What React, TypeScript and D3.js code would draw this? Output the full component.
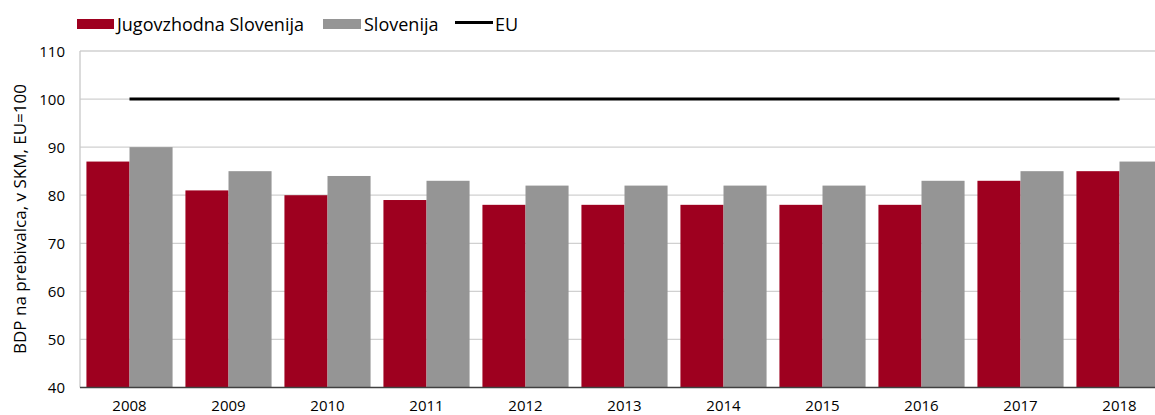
import React, { useRef, useEffect } from 'react'
import * as d3 from 'd3'

const years = ['2008', '2009', '2010', '2011', '2012', '2013', '2014', '2015', '2016', '2017', '2018']
const jugovzhodna = [87, 81, 80, 79, 78, 78, 78, 78, 78, 83, 85]
const slovenija = [90, 85, 84, 83, 82, 82, 82, 82, 83, 85, 87]
const eu = [100, 100, 100, 100, 100, 100, 100, 100, 100, 100, 100]
const yTicks = [40, 50, 60, 70, 80, 90, 100, 110]

const RED = '#9e001f'
const GRAY = '#959595'
const FONT = '"Open Sans", "Noto Sans", sans-serif'

export default function App() {
  const svgRef = useRef<SVGSVGElement>(null)

  useEffect(() => {
    const svg = d3.select(svgRef.current)
    svg.selectAll('*').remove()

    const width = 1155

    // plot runs past the right edge, like the original crop
    const x = d3.scaleBand().domain(years).range([80, 1169]).paddingInner(0.13).paddingOuter(0.065)
    const x1 = d3.scaleBand().domain(['j', 's']).range([0, x.bandwidth()])
    const y = d3.scaleLinear().domain([40, 110]).range([387.5, 51])

    // grid
    svg.append('g')
      .selectAll('line')
      .data(yTicks.slice(1))
      .join('line')
      .attr('x1', 80).attr('x2', width)
      .attr('y1', d => y(d)).attr('y2', d => y(d))
      .attr('stroke', '#d0d0d0').attr('stroke-width', 1.3)

    svg.append('line')
      .attr('x1', 80).attr('x2', 80)
      .attr('y1', y(110)).attr('y2', y(40))
      .attr('stroke', '#c8c8c8').attr('stroke-width', 1.3)

    // bars
    const g = svg.append('g')
    g.selectAll('rect.j')
      .data(jugovzhodna)
      .join('rect')
      .attr('class', 'j')
      .attr('x', (d, i) => x(years[i])! + x1('j')!)
      .attr('width', x1.bandwidth())
      .attr('y', d => y(d))
      .attr('height', d => y(40) - y(d))
      .attr('fill', RED)
    g.selectAll('rect.s')
      .data(slovenija)
      .join('rect')
      .attr('class', 's')
      .attr('x', (d, i) => x(years[i])! + x1('s')!)
      .attr('width', x1.bandwidth())
      .attr('y', d => y(d))
      .attr('height', d => y(40) - y(d))
      .attr('fill', GRAY)

    // EU line
    const line = d3.line<number>()
      .x((d, i) => x(years[i])! + x.bandwidth() / 2)
      .y(d => y(d))
    svg.append('path')
      .datum(eu)
      .attr('d', line)
      .attr('fill', 'none')
      .attr('stroke', '#000')
      .attr('stroke-width', 3)

    // bottom axis
    svg.append('line')
      .attr('x1', 80).attr('x2', width)
      .attr('y1', y(40)).attr('y2', y(40))
      .attr('stroke', '#404040').attr('stroke-width', 1.5)

    svg.append('g')
      .selectAll('text')
      .data(years)
      .join('text')
      .attr('x', d => x(d)! + x.bandwidth() / 2)
      .attr('y', 410.5)
      .attr('text-anchor', 'middle')
      .style('font', `15px ${FONT}`)
      .attr('fill', '#000')
      .text(d => d)

    // y labels
    svg.append('g')
      .selectAll('text')
      .data(yTicks)
      .join('text')
      .attr('x', 65)
      .attr('y', d => y(d) + 5.5)
      .attr('text-anchor', 'end')
      .style('font', `15px ${FONT}`)
      .attr('fill', '#000')
      .text(d => d)

    svg.append('text')
      .attr('transform', `translate(25.5,219) rotate(-90)`)
      .attr('text-anchor', 'middle')
      .style('font', `17px ${FONT}`)
      .attr('fill', '#000')
      .text('BDP na prebivalca, v SKM, EU=100')

    // legend
    const lg = svg.append('g').style('font', `18px ${FONT}`).attr('fill', '#000')
    lg.append('rect').attr('x', 77).attr('y', 19).attr('width', 37).attr('height', 10).attr('fill', RED)
    lg.append('text').attr('x', 117).attr('y', 30.5).text('Jugovzhodna Slovenija')
    lg.append('rect').attr('x', 323).attr('y', 19).attr('width', 38).attr('height', 10).attr('fill', GRAY)
    lg.append('text').attr('x', 364).attr('y', 30.5).text('Slovenija')
    lg.append('line').attr('x1', 455).attr('x2', 493).attr('y1', 22.5).attr('y2', 22.5).attr('stroke', '#000').attr('stroke-width', 3)
    lg.append('text').attr('x', 495).attr('y', 30.5).text('EU')
  }, [])

  return (
    <svg ref={svgRef} width={1155} height={415} style={{ position: 'absolute', left: 0, top: 0, background: '#fff' }} />
  )
}
